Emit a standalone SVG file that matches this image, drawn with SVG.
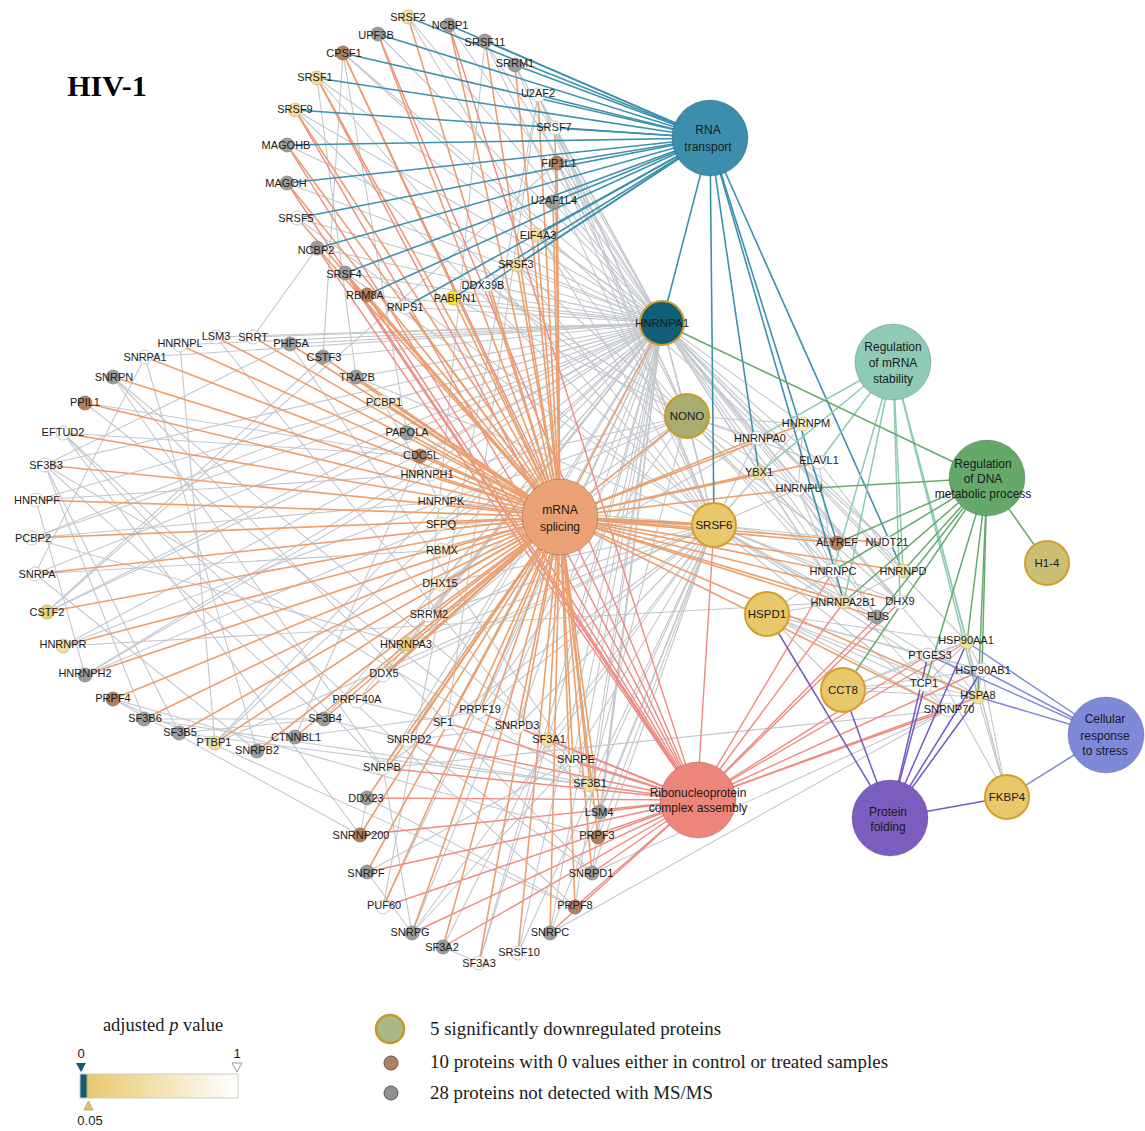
<svg xmlns="http://www.w3.org/2000/svg" width="1145" height="1131" viewBox="0 0 1145 1131">
<defs>
<linearGradient id="pgrad" x1="0" x2="1" y1="0" y2="0">
<stop offset="0" stop-color="#0e5b74"/><stop offset="0.035" stop-color="#0e5b74"/><stop offset="0.05" stop-color="#e8c96e"/><stop offset="1" stop-color="#ffffff"/>
</linearGradient>
<style>
line{stroke-linecap:round;fill:none}
.eg line{stroke:#c3c7cc;stroke-width:1.1}
.er line{stroke:#ee8a80;stroke-width:1.4}
.eo line{stroke:#eb9f6c;stroke-width:1.6}
.et line{stroke:#3d91ad;stroke-width:1.6}
.es line{stroke:#8ecab6;stroke-width:1.5}
.ed line{stroke:#66ab6c;stroke-width:1.5}
.ep line{stroke:#7458c4;stroke-width:1.5}
.ec line{stroke:#7f88da;stroke-width:1.5}
text{font-family:"Liberation Sans",Arial,sans-serif;fill:#1a1a1a;text-anchor:middle}
.nd text{font-size:11px}
.nd circle{stroke-width:0.8}
.wh{fill:#ffffff;stroke:#bdbdbd}
.gr{fill:#9b9b9b;stroke:#8a8a8a}
.br{fill:#b27f5c;stroke:#9a6c4c}
.pl{fill:#f7eed0;stroke:#cfc7a8}
.lt{fill:#f0de9e;stroke:#cdbb80}
.md{fill:#eacf74;stroke:#c9ad58}
.ye{fill:#f3e63a;stroke:#c9bd30}
.hub circle{stroke:#000;stroke-opacity:0.2;stroke-width:1}
.hub text{font-size:12px}
.gn circle{stroke-width:2}
.gn text{font-size:11.5px}
.lg{font-family:"Liberation Serif","Times New Roman",serif;font-size:18.5px;text-anchor:start}
</style>
</defs>
<rect width="1145" height="1131" fill="#ffffff"/>
<text x="107" y="96" style="font-family:'Liberation Serif','Times New Roman',serif;font-size:30px;font-weight:bold;fill:#000">HIV-1</text>

<g id="connectors">
<g class="eg">
<line x1="662" y1="323" x2="408" y2="17"/><line x1="662" y1="323" x2="378" y2="34"/><line x1="662" y1="323" x2="343" y2="53"/><line x1="662" y1="323" x2="317" y2="78"/><line x1="662" y1="323" x2="295" y2="110"/><line x1="662" y1="323" x2="287" y2="145"/><line x1="662" y1="323" x2="287" y2="183"/><line x1="662" y1="323" x2="297" y2="218"/><line x1="662" y1="323" x2="317" y2="248"/><line x1="662" y1="323" x2="345" y2="273"/><line x1="662" y1="323" x2="367" y2="295"/><line x1="662" y1="323" x2="405" y2="307"/><line x1="662" y1="323" x2="453" y2="298"/><line x1="662" y1="323" x2="487" y2="285"/><line x1="662" y1="323" x2="517" y2="265"/><line x1="662" y1="323" x2="537" y2="235"/><line x1="662" y1="323" x2="553" y2="202"/><line x1="662" y1="323" x2="557" y2="163"/><line x1="662" y1="323" x2="555" y2="128"/><line x1="662" y1="323" x2="538" y2="95"/><line x1="662" y1="323" x2="515" y2="65"/><line x1="662" y1="323" x2="485" y2="41"/><line x1="662" y1="323" x2="449" y2="25"/>
<line x1="662" y1="323" x2="180" y2="345"/><line x1="662" y1="323" x2="216" y2="337"/><line x1="662" y1="323" x2="253" y2="337"/><line x1="662" y1="323" x2="290" y2="344"/><line x1="662" y1="323" x2="145" y2="357"/><line x1="662" y1="323" x2="323" y2="357"/><line x1="662" y1="323" x2="356" y2="377"/><line x1="662" y1="323" x2="383" y2="402"/><line x1="662" y1="323" x2="407" y2="433"/><line x1="662" y1="323" x2="420" y2="456"/><line x1="662" y1="323" x2="430" y2="474"/><line x1="662" y1="323" x2="440" y2="502"/><line x1="662" y1="323" x2="440" y2="524"/><line x1="662" y1="323" x2="442" y2="550"/><line x1="662" y1="323" x2="440" y2="584"/><line x1="662" y1="323" x2="428" y2="615"/><line x1="662" y1="323" x2="406" y2="644"/><line x1="662" y1="323" x2="383" y2="675"/><line x1="662" y1="323" x2="357" y2="701"/><line x1="662" y1="323" x2="324" y2="719"/><line x1="662" y1="323" x2="36" y2="500"/><line x1="662" y1="323" x2="32" y2="538"/><line x1="662" y1="323" x2="45" y2="465"/><line x1="662" y1="323" x2="63" y2="646"/><line x1="662" y1="323" x2="85" y2="675"/><line x1="662" y1="323" x2="47" y2="612"/><line x1="662" y1="323" x2="215" y2="743"/><line x1="662" y1="323" x2="35" y2="574"/>
<line x1="662" y1="323" x2="447" y2="723"/><line x1="662" y1="323" x2="479" y2="712"/><line x1="662" y1="323" x2="517" y2="727"/><line x1="662" y1="323" x2="548" y2="740"/><line x1="662" y1="323" x2="573" y2="760"/><line x1="662" y1="323" x2="590" y2="785"/><line x1="662" y1="323" x2="600" y2="812"/><line x1="662" y1="323" x2="598" y2="837"/><line x1="662" y1="323" x2="592" y2="873"/><line x1="662" y1="323" x2="575" y2="907"/><line x1="662" y1="323" x2="550" y2="933"/><line x1="662" y1="323" x2="518" y2="953"/><line x1="662" y1="323" x2="479" y2="963"/><line x1="662" y1="323" x2="412" y2="933"/><line x1="662" y1="323" x2="383" y2="907"/><line x1="662" y1="323" x2="383" y2="768"/><line x1="662" y1="323" x2="408" y2="740"/>
<line x1="662" y1="323" x2="687" y2="416"/><line x1="662" y1="323" x2="757" y2="438"/><line x1="662" y1="323" x2="759" y2="473"/><line x1="662" y1="323" x2="803" y2="424"/><line x1="662" y1="323" x2="819" y2="462"/><line x1="662" y1="323" x2="798" y2="489"/><line x1="662" y1="323" x2="837" y2="543"/><line x1="662" y1="323" x2="833" y2="571"/><line x1="662" y1="323" x2="903" y2="571"/><line x1="662" y1="323" x2="844" y2="602"/><line x1="662" y1="323" x2="900" y2="602"/><line x1="662" y1="323" x2="877" y2="617"/><line x1="662" y1="323" x2="978" y2="697"/><line x1="662" y1="323" x2="967" y2="642"/><line x1="662" y1="323" x2="714" y2="525"/><line x1="662" y1="323" x2="887" y2="543"/>
<line x1="714" y1="525" x2="317" y2="78"/><line x1="714" y1="525" x2="408" y2="17"/><line x1="714" y1="525" x2="517" y2="265"/><line x1="714" y1="525" x2="297" y2="218"/><line x1="714" y1="525" x2="555" y2="128"/><line x1="714" y1="525" x2="295" y2="110"/><line x1="714" y1="525" x2="485" y2="41"/><line x1="714" y1="525" x2="345" y2="273"/><line x1="714" y1="525" x2="538" y2="95"/><line x1="714" y1="525" x2="515" y2="65"/><line x1="714" y1="525" x2="428" y2="615"/><line x1="714" y1="525" x2="356" y2="377"/><line x1="714" y1="525" x2="440" y2="502"/><line x1="714" y1="525" x2="440" y2="524"/><line x1="714" y1="525" x2="215" y2="743"/><line x1="714" y1="525" x2="406" y2="644"/><line x1="714" y1="525" x2="440" y2="584"/><line x1="714" y1="525" x2="383" y2="675"/><line x1="714" y1="525" x2="479" y2="712"/><line x1="714" y1="525" x2="590" y2="785"/><line x1="714" y1="525" x2="573" y2="760"/><line x1="714" y1="525" x2="600" y2="812"/><line x1="714" y1="525" x2="598" y2="837"/><line x1="714" y1="525" x2="592" y2="873"/><line x1="714" y1="525" x2="548" y2="740"/><line x1="714" y1="525" x2="517" y2="727"/><line x1="714" y1="525" x2="948" y2="710"/><line x1="714" y1="525" x2="978" y2="697"/><line x1="714" y1="525" x2="928" y2="655"/><line x1="714" y1="525" x2="844" y2="602"/><line x1="714" y1="525" x2="833" y2="571"/><line x1="714" y1="525" x2="837" y2="543"/><line x1="714" y1="525" x2="887" y2="543"/><line x1="714" y1="525" x2="798" y2="489"/><line x1="714" y1="525" x2="759" y2="473"/><line x1="714" y1="525" x2="757" y2="438"/><line x1="714" y1="525" x2="803" y2="424"/><line x1="714" y1="525" x2="687" y2="416"/><line x1="714" y1="525" x2="877" y2="617"/><line x1="714" y1="525" x2="900" y2="602"/><line x1="714" y1="525" x2="383" y2="768"/><line x1="714" y1="525" x2="412" y2="933"/><line x1="714" y1="525" x2="550" y2="933"/><line x1="714" y1="525" x2="518" y2="953"/>
<line x1="687" y1="416" x2="440" y2="524"/><line x1="687" y1="416" x2="440" y2="502"/><line x1="687" y1="416" x2="430" y2="474"/><line x1="687" y1="416" x2="798" y2="489"/><line x1="687" y1="416" x2="803" y2="424"/><line x1="687" y1="416" x2="757" y2="438"/><line x1="687" y1="416" x2="479" y2="712"/><line x1="687" y1="416" x2="590" y2="785"/><line x1="687" y1="416" x2="948" y2="710"/><line x1="687" y1="416" x2="900" y2="602"/><line x1="687" y1="416" x2="833" y2="571"/><line x1="687" y1="416" x2="819" y2="462"/><line x1="687" y1="416" x2="517" y2="265"/><line x1="687" y1="416" x2="537" y2="235"/><line x1="687" y1="416" x2="538" y2="95"/><line x1="687" y1="416" x2="383" y2="675"/><line x1="687" y1="416" x2="440" y2="584"/><line x1="687" y1="416" x2="453" y2="298"/><line x1="687" y1="416" x2="487" y2="285"/><line x1="687" y1="416" x2="555" y2="128"/><line x1="687" y1="416" x2="557" y2="163"/>
<line x1="767" y1="614" x2="967" y2="642"/><line x1="767" y1="614" x2="928" y2="655"/><line x1="767" y1="614" x2="978" y2="697"/><line x1="767" y1="614" x2="948" y2="710"/><line x1="767" y1="614" x2="925" y2="685"/><line x1="767" y1="614" x2="843" y2="690"/><line x1="767" y1="614" x2="982" y2="670"/><line x1="767" y1="614" x2="833" y2="571"/><line x1="767" y1="614" x2="844" y2="602"/>
<line x1="843" y1="690" x2="925" y2="685"/><line x1="843" y1="690" x2="967" y2="642"/><line x1="843" y1="690" x2="978" y2="697"/><line x1="843" y1="690" x2="982" y2="670"/><line x1="843" y1="690" x2="928" y2="655"/>
<line x1="1007" y1="797" x2="967" y2="642"/><line x1="1007" y1="797" x2="982" y2="670"/><line x1="1007" y1="797" x2="978" y2="697"/><line x1="1007" y1="797" x2="928" y2="655"/><line x1="1007" y1="797" x2="893" y2="362"/>
<line x1="978" y1="697" x2="967" y2="642"/><line x1="978" y1="697" x2="982" y2="670"/><line x1="967" y1="642" x2="982" y2="670"/><line x1="928" y1="655" x2="967" y2="642"/><line x1="928" y1="655" x2="982" y2="670"/><line x1="978" y1="697" x2="948" y2="710"/><line x1="925" y1="685" x2="967" y2="642"/><line x1="978" y1="697" x2="925" y2="685"/>
<line x1="844" y1="602" x2="833" y2="571"/><line x1="833" y1="571" x2="798" y2="489"/><line x1="903" y1="571" x2="844" y2="602"/><line x1="900" y1="602" x2="798" y2="489"/><line x1="819" y1="462" x2="903" y2="571"/><line x1="819" y1="462" x2="833" y2="571"/><line x1="837" y1="543" x2="487" y2="285"/><line x1="887" y1="543" x2="343" y2="53"/><line x1="877" y1="617" x2="798" y2="489"/><line x1="759" y1="473" x2="844" y2="602"/><line x1="803" y1="424" x2="798" y2="489"/><line x1="757" y1="438" x2="406" y2="644"/><line x1="948" y1="710" x2="550" y2="933"/><line x1="948" y1="710" x2="383" y2="768"/><line x1="948" y1="710" x2="592" y2="873"/>
<line x1="45" y1="465" x2="324" y2="719"/><line x1="45" y1="465" x2="179" y2="733"/><line x1="45" y1="465" x2="144" y2="719"/><line x1="45" y1="465" x2="290" y2="344"/><line x1="45" y1="465" x2="590" y2="785"/><line x1="144" y1="719" x2="590" y2="785"/><line x1="179" y1="733" x2="590" y2="785"/><line x1="324" y1="719" x2="590" y2="785"/><line x1="290" y1="344" x2="590" y2="785"/><line x1="35" y1="574" x2="257" y2="751"/><line x1="35" y1="574" x2="145" y2="357"/><line x1="145" y1="357" x2="257" y2="751"/><line x1="36" y1="500" x2="430" y2="474"/><line x1="36" y1="500" x2="85" y2="675"/><line x1="430" y1="474" x2="85" y2="675"/><line x1="32" y1="538" x2="383" y2="402"/><line x1="32" y1="538" x2="440" y2="502"/><line x1="383" y1="402" x2="440" y2="502"/><line x1="63" y1="433" x2="360" y2="835"/><line x1="63" y1="433" x2="575" y2="907"/><line x1="63" y1="433" x2="383" y2="768"/><line x1="63" y1="433" x2="420" y2="456"/><line x1="85" y1="403" x2="420" y2="456"/><line x1="85" y1="403" x2="479" y2="712"/><line x1="295" y1="737" x2="420" y2="456"/><line x1="295" y1="737" x2="479" y2="712"/><line x1="113" y1="699" x2="598" y2="837"/><line x1="113" y1="699" x2="575" y2="907"/><line x1="113" y1="699" x2="360" y2="835"/><line x1="47" y1="612" x2="323" y2="357"/><line x1="47" y1="612" x2="557" y2="163"/><line x1="47" y1="612" x2="407" y2="433"/><line x1="323" y1="357" x2="343" y2="53"/><line x1="407" y1="433" x2="343" y2="53"/><line x1="63" y1="646" x2="440" y2="502"/><line x1="113" y1="377" x2="383" y2="768"/><line x1="113" y1="377" x2="592" y2="873"/><line x1="113" y1="377" x2="573" y2="760"/><line x1="216" y1="337" x2="600" y2="812"/><line x1="253" y1="337" x2="317" y2="248"/><line x1="180" y1="345" x2="215" y2="743"/><line x1="215" y1="743" x2="440" y2="502"/><line x1="356" y1="377" x2="317" y2="78"/><line x1="548" y1="740" x2="443" y2="947"/><line x1="548" y1="740" x2="479" y2="963"/><line x1="443" y1="947" x2="479" y2="963"/><line x1="447" y1="723" x2="538" y2="95"/><line x1="383" y1="907" x2="538" y2="95"/><line x1="412" y1="933" x2="383" y2="768"/><line x1="412" y1="933" x2="573" y2="760"/><line x1="367" y1="872" x2="573" y2="760"/><line x1="367" y1="872" x2="412" y2="933"/><line x1="408" y1="740" x2="517" y2="727"/><line x1="592" y1="873" x2="408" y2="740"/><line x1="367" y1="798" x2="360" y2="835"/><line x1="367" y1="798" x2="575" y2="907"/><line x1="144" y1="719" x2="324" y2="719"/><line x1="179" y1="733" x2="324" y2="719"/><line x1="357" y1="701" x2="447" y2="723"/><line x1="428" y1="615" x2="485" y2="41"/><line x1="63" y1="646" x2="844" y2="602"/><line x1="85" y1="675" x2="440" y2="524"/><line x1="32" y1="538" x2="406" y2="644"/><line x1="35" y1="574" x2="442" y2="550"/>
</g>
<g class="er">
<line x1="697" y1="800" x2="447" y2="723"/><line x1="697" y1="800" x2="408" y2="740"/><line x1="697" y1="800" x2="383" y2="768"/><line x1="697" y1="800" x2="367" y2="798"/><line x1="697" y1="800" x2="360" y2="835"/><line x1="697" y1="800" x2="367" y2="872"/><line x1="697" y1="800" x2="383" y2="907"/><line x1="697" y1="800" x2="412" y2="933"/><line x1="697" y1="800" x2="443" y2="947"/><line x1="697" y1="800" x2="550" y2="933"/><line x1="697" y1="800" x2="575" y2="907"/><line x1="697" y1="800" x2="592" y2="873"/><line x1="697" y1="800" x2="598" y2="837"/><line x1="697" y1="800" x2="600" y2="812"/><line x1="697" y1="800" x2="590" y2="785"/><line x1="697" y1="800" x2="573" y2="760"/><line x1="697" y1="800" x2="548" y2="740"/><line x1="697" y1="800" x2="517" y2="727"/><line x1="697" y1="800" x2="479" y2="712"/>
<line x1="697" y1="800" x2="714" y2="525"/><line x1="697" y1="800" x2="833" y2="571"/><line x1="697" y1="800" x2="844" y2="602"/><line x1="697" y1="800" x2="877" y2="617"/><line x1="697" y1="800" x2="900" y2="602"/><line x1="697" y1="800" x2="928" y2="655"/><line x1="697" y1="800" x2="967" y2="642"/><line x1="697" y1="800" x2="982" y2="670"/><line x1="697" y1="800" x2="978" y2="697"/><line x1="697" y1="800" x2="948" y2="710"/>
<line x1="697" y1="800" x2="449" y2="25"/><line x1="697" y1="800" x2="378" y2="34"/><line x1="697" y1="800" x2="343" y2="53"/><line x1="697" y1="800" x2="317" y2="78"/><line x1="697" y1="800" x2="295" y2="110"/><line x1="697" y1="800" x2="287" y2="145"/><line x1="697" y1="800" x2="287" y2="183"/><line x1="697" y1="800" x2="317" y2="248"/><line x1="697" y1="800" x2="367" y2="295"/><line x1="697" y1="800" x2="345" y2="273"/>
</g>
<g class="eo">
<line x1="560" y1="517" x2="408" y2="17"/><line x1="560" y1="517" x2="449" y2="25"/><line x1="560" y1="517" x2="378" y2="34"/><line x1="560" y1="517" x2="485" y2="41"/><line x1="560" y1="517" x2="343" y2="53"/><line x1="560" y1="517" x2="515" y2="65"/><line x1="560" y1="517" x2="317" y2="78"/><line x1="560" y1="517" x2="538" y2="95"/><line x1="560" y1="517" x2="295" y2="110"/><line x1="560" y1="517" x2="555" y2="128"/><line x1="560" y1="517" x2="287" y2="145"/><line x1="560" y1="517" x2="557" y2="163"/><line x1="560" y1="517" x2="287" y2="183"/><line x1="560" y1="517" x2="553" y2="202"/><line x1="560" y1="517" x2="297" y2="218"/><line x1="560" y1="517" x2="537" y2="235"/><line x1="560" y1="517" x2="317" y2="248"/><line x1="560" y1="517" x2="517" y2="265"/><line x1="560" y1="517" x2="345" y2="273"/><line x1="560" y1="517" x2="487" y2="285"/><line x1="560" y1="517" x2="367" y2="295"/><line x1="560" y1="517" x2="453" y2="298"/><line x1="560" y1="517" x2="405" y2="307"/>
<line x1="560" y1="517" x2="180" y2="345"/><line x1="560" y1="517" x2="216" y2="337"/><line x1="560" y1="517" x2="253" y2="337"/><line x1="560" y1="517" x2="290" y2="344"/><line x1="560" y1="517" x2="145" y2="357"/><line x1="560" y1="517" x2="323" y2="357"/><line x1="560" y1="517" x2="113" y2="377"/><line x1="560" y1="517" x2="356" y2="377"/><line x1="560" y1="517" x2="85" y2="403"/><line x1="560" y1="517" x2="383" y2="402"/><line x1="560" y1="517" x2="63" y2="433"/><line x1="560" y1="517" x2="407" y2="433"/><line x1="560" y1="517" x2="420" y2="456"/><line x1="560" y1="517" x2="45" y2="465"/><line x1="560" y1="517" x2="430" y2="474"/><line x1="560" y1="517" x2="36" y2="500"/><line x1="560" y1="517" x2="440" y2="502"/><line x1="560" y1="517" x2="32" y2="538"/><line x1="560" y1="517" x2="440" y2="524"/><line x1="560" y1="517" x2="442" y2="550"/><line x1="560" y1="517" x2="35" y2="574"/><line x1="560" y1="517" x2="440" y2="584"/><line x1="560" y1="517" x2="47" y2="612"/><line x1="560" y1="517" x2="428" y2="615"/><line x1="560" y1="517" x2="63" y2="646"/><line x1="560" y1="517" x2="406" y2="644"/><line x1="560" y1="517" x2="85" y2="675"/><line x1="560" y1="517" x2="383" y2="675"/><line x1="560" y1="517" x2="113" y2="699"/><line x1="560" y1="517" x2="357" y2="701"/><line x1="560" y1="517" x2="144" y2="719"/><line x1="560" y1="517" x2="324" y2="719"/><line x1="560" y1="517" x2="179" y2="733"/><line x1="560" y1="517" x2="295" y2="737"/><line x1="560" y1="517" x2="215" y2="743"/><line x1="560" y1="517" x2="257" y2="751"/>
<line x1="560" y1="517" x2="479" y2="712"/><line x1="560" y1="517" x2="447" y2="723"/><line x1="560" y1="517" x2="517" y2="727"/><line x1="560" y1="517" x2="408" y2="740"/><line x1="560" y1="517" x2="548" y2="740"/><line x1="560" y1="517" x2="573" y2="760"/><line x1="560" y1="517" x2="383" y2="768"/><line x1="560" y1="517" x2="590" y2="785"/><line x1="560" y1="517" x2="367" y2="798"/><line x1="560" y1="517" x2="600" y2="812"/><line x1="560" y1="517" x2="360" y2="835"/><line x1="560" y1="517" x2="598" y2="837"/><line x1="560" y1="517" x2="367" y2="872"/><line x1="560" y1="517" x2="592" y2="873"/><line x1="560" y1="517" x2="383" y2="907"/><line x1="560" y1="517" x2="575" y2="907"/><line x1="560" y1="517" x2="412" y2="933"/><line x1="560" y1="517" x2="550" y2="933"/><line x1="560" y1="517" x2="443" y2="947"/><line x1="560" y1="517" x2="518" y2="953"/><line x1="560" y1="517" x2="479" y2="963"/>
<line x1="560" y1="517" x2="662" y2="323"/><line x1="560" y1="517" x2="687" y2="416"/><line x1="560" y1="517" x2="714" y2="525" style="stroke-width:3"/><line x1="560" y1="517" x2="757" y2="438"/><line x1="560" y1="517" x2="759" y2="473"/><line x1="560" y1="517" x2="803" y2="424"/><line x1="560" y1="517" x2="798" y2="489"/><line x1="560" y1="517" x2="819" y2="462"/><line x1="560" y1="517" x2="837" y2="543"/><line x1="560" y1="517" x2="887" y2="543"/><line x1="560" y1="517" x2="833" y2="571"/><line x1="560" y1="517" x2="903" y2="571"/><line x1="560" y1="517" x2="844" y2="602"/><line x1="560" y1="517" x2="900" y2="602"/><line x1="560" y1="517" x2="877" y2="617"/><line x1="560" y1="517" x2="948" y2="710"/><line x1="560" y1="517" x2="978" y2="697"/>
</g>
<g class="et">
<line x1="710" y1="138" x2="408" y2="17"/><line x1="710" y1="138" x2="449" y2="25"/><line x1="710" y1="138" x2="378" y2="34"/><line x1="710" y1="138" x2="485" y2="41"/><line x1="710" y1="138" x2="343" y2="53"/><line x1="710" y1="138" x2="515" y2="65"/><line x1="710" y1="138" x2="317" y2="78"/><line x1="710" y1="138" x2="538" y2="95"/><line x1="710" y1="138" x2="295" y2="110"/><line x1="710" y1="138" x2="555" y2="128"/><line x1="710" y1="138" x2="287" y2="145"/><line x1="710" y1="138" x2="557" y2="163"/><line x1="710" y1="138" x2="287" y2="183"/><line x1="710" y1="138" x2="553" y2="202"/><line x1="710" y1="138" x2="297" y2="218"/><line x1="710" y1="138" x2="537" y2="235"/><line x1="710" y1="138" x2="317" y2="248"/><line x1="710" y1="138" x2="517" y2="265"/><line x1="710" y1="138" x2="345" y2="273"/><line x1="710" y1="138" x2="487" y2="285"/><line x1="710" y1="138" x2="367" y2="295"/><line x1="710" y1="138" x2="453" y2="298"/><line x1="710" y1="138" x2="405" y2="307"/>
<line x1="710" y1="138" x2="662" y2="323"/><line x1="710" y1="138" x2="714" y2="525"/><line x1="710" y1="138" x2="759" y2="473"/><line x1="710" y1="138" x2="837" y2="543"/><line x1="710" y1="138" x2="844" y2="602"/><line x1="710" y1="138" x2="903" y2="571"/>
</g>
<g class="es">
<line x1="893" y1="362" x2="757" y2="438"/><line x1="893" y1="362" x2="759" y2="473"/><line x1="893" y1="362" x2="819" y2="462"/><line x1="893" y1="362" x2="833" y2="571"/><line x1="893" y1="362" x2="844" y2="602"/><line x1="893" y1="362" x2="903" y2="571"/><line x1="893" y1="362" x2="900" y2="602"/><line x1="893" y1="362" x2="967" y2="642"/><line x1="893" y1="362" x2="978" y2="697"/>
</g>
<g class="ed">
<line x1="987" y1="478" x2="662" y2="323"/><line x1="987" y1="478" x2="798" y2="489"/><line x1="987" y1="478" x2="837" y2="543"/><line x1="987" y1="478" x2="833" y2="571"/><line x1="987" y1="478" x2="844" y2="602"/><line x1="987" y1="478" x2="903" y2="571"/><line x1="987" y1="478" x2="877" y2="617"/><line x1="987" y1="478" x2="843" y2="690"/><line x1="987" y1="478" x2="925" y2="685"/><line x1="987" y1="478" x2="967" y2="642"/><line x1="987" y1="478" x2="982" y2="670"/><line x1="987" y1="478" x2="978" y2="697"/><line x1="987" y1="478" x2="1047" y2="563"/>
</g>
<g class="ep">
<line x1="890" y1="818" x2="767" y2="614"/><line x1="890" y1="818" x2="843" y2="690"/><line x1="890" y1="818" x2="925" y2="685"/><line x1="890" y1="818" x2="928" y2="655"/><line x1="890" y1="818" x2="967" y2="642"/><line x1="890" y1="818" x2="982" y2="670"/><line x1="890" y1="818" x2="978" y2="697"/><line x1="890" y1="818" x2="1007" y2="797"/>
</g>
<g class="ec">
<line x1="1106" y1="735" x2="967" y2="642"/><line x1="1106" y1="735" x2="928" y2="655"/><line x1="1106" y1="735" x2="982" y2="670"/><line x1="1106" y1="735" x2="978" y2="697"/><line x1="1106" y1="735" x2="1007" y2="797"/>
</g>
</g>

<g id="nodes">
<g id="hub-rna-transport" class="hub"><circle cx="710" cy="138" r="38" fill="#3b8fac"/><text x="708" y="134">RNA</text><text x="708" y="151">transport</text></g>
<g id="hub-mrna-splicing" class="hub"><circle cx="560" cy="517" r="38" fill="#eaa274"/><text x="560" y="514">mRNA</text><text x="560" y="531">splicing</text></g>
<g id="hub-rnp-assembly" class="hub"><circle cx="698" cy="800" r="38" fill="#ee857a"/><text x="698" y="797">Ribonucleoprotein</text><text x="698" y="812">complex assembly</text></g>
<g id="hub-protein-folding" class="hub"><circle cx="890" cy="818" r="38" fill="#7b5dc0"/><text x="888" y="816">Protein</text><text x="888" y="831">folding</text></g>
<g id="hub-cellular-stress" class="hub"><circle cx="1106" cy="735" r="38" fill="#7e89d9"/><text x="1105" y="723">Cellular</text><text x="1105" y="740">response</text><text x="1105" y="755">to stress</text></g>
<g id="hub-mrna-stability" class="hub"><circle cx="893" cy="362" r="38" fill="#8fcab7"/><text x="893" y="351">Regulation</text><text x="893" y="367">of mRNA</text><text x="893" y="383">stability</text></g>
<g id="hub-dna-metabolic" class="hub"><circle cx="987" cy="478" r="38" fill="#64a96a"/><text x="983" y="468">Regulation</text><text x="983" y="483">of DNA</text><text x="983" y="498">metabolic process</text></g>

<g id="HNRNPA1" class="gn"><circle cx="662" cy="323" r="22" fill="#0f5f78" stroke="#d39a2a"/><text x="662" y="327">HNRNPA1</text></g>
<g id="NONO" class="gn"><circle cx="687" cy="416" r="22" fill="#a9ad72" stroke="#c99a2a"/><text x="687" y="420">NONO</text></g>
<g id="SRSF6" class="gn"><circle cx="714" cy="525" r="22" fill="#e9c86c" stroke="#d69d2c"/><text x="714" y="529">SRSF6</text></g>
<g id="HSPD1" class="gn"><circle cx="767" cy="614" r="22" fill="#e9c86c" stroke="#d69d2c"/><text x="767" y="618">HSPD1</text></g>
<g id="CCT8" class="gn"><circle cx="843" cy="690" r="22" fill="#e9c86c" stroke="#d69d2c"/><text x="843" y="694">CCT8</text></g>
<g id="FKBP4" class="gn"><circle cx="1007" cy="797" r="22" fill="#e9c86c" stroke="#d69d2c"/><text x="1007" y="801">FKBP4</text></g>
<g id="H1-4" class="gn"><circle cx="1047" cy="563" r="22" fill="#cbbf76" stroke="#d69d2c"/><text x="1047" y="567">H1-4</text></g>

<g id="SRSF2" class="nd"><circle class="lt" cx="408" cy="17" r="7"/><text x="408" y="21">SRSF2</text></g>
<g id="NCBP1" class="nd"><circle class="gr" cx="449" cy="25" r="7"/><text x="450" y="29">NCBP1</text></g>
<g id="UPF3B" class="nd"><circle class="gr" cx="378" cy="34" r="7"/><text x="376" y="39">UPF3B</text></g>
<g id="SRSF11" class="nd"><circle class="gr" cx="485" cy="41" r="7"/><text x="485" y="46">SRSF11</text></g>
<g id="CPSF1" class="nd"><circle class="br" cx="343" cy="53" r="7"/><text x="344" y="57">CPSF1</text></g>
<g id="SRRM1" class="nd"><circle class="gr" cx="515" cy="65" r="7"/><text x="515" y="67">SRRM1</text></g>
<g id="SRSF1" class="nd"><circle class="lt" cx="317" cy="78" r="7"/><text x="315" y="81">SRSF1</text></g>
<g id="U2AF2" class="nd"><circle class="wh" cx="538" cy="95" r="7"/><text x="538" y="97">U2AF2</text></g>
<g id="SRSF9" class="nd"><circle class="lt" cx="295" cy="110" r="7"/><text x="295" y="113">SRSF9</text></g>
<g id="SRSF7" class="nd"><circle class="wh" cx="555" cy="128" r="7"/><text x="554" y="131">SRSF7</text></g>
<g id="MAGOHB" class="nd"><circle class="gr" cx="287" cy="145" r="7"/><text x="286" y="149">MAGOHB</text></g>
<g id="FIP1L1" class="nd"><circle class="br" cx="557" cy="163" r="7"/><text x="559" y="167">FIP1L1</text></g>
<g id="MAGOH" class="nd"><circle class="gr" cx="287" cy="183" r="7"/><text x="286" y="187">MAGOH</text></g>
<g id="U2AF1L4" class="nd"><circle class="gr" cx="553" cy="202" r="7"/><text x="554" y="204">U2AF1L4</text></g>
<g id="SRSF5" class="nd"><circle class="wh" cx="297" cy="218" r="7"/><text x="296" y="222">SRSF5</text></g>
<g id="EIF4A3" class="nd"><circle class="lt" cx="537" cy="235" r="7"/><text x="538" y="239">EIF4A3</text></g>
<g id="NCBP2" class="nd"><circle class="gr" cx="317" cy="248" r="7"/><text x="316" y="254">NCBP2</text></g>
<g id="SRSF3" class="nd"><circle class="lt" cx="517" cy="265" r="7"/><text x="516" y="268">SRSF3</text></g>
<g id="SRSF4" class="nd"><circle class="gr" cx="345" cy="273" r="7"/><text x="344" y="278">SRSF4</text></g>
<g id="DDX39B" class="nd"><circle class="wh" cx="487" cy="285" r="7"/><text x="483" y="289">DDX39B</text></g>
<g id="RBM8A" class="nd"><circle class="br" cx="367" cy="295" r="7"/><text x="365" y="299">RBM8A</text></g>
<g id="PABPN1" class="nd"><circle class="ye" cx="453" cy="298" r="7"/><text x="455" y="302">PABPN1</text></g>
<g id="RNPS1" class="nd"><circle class="wh" cx="405" cy="307" r="7"/><text x="405" y="311">RNPS1</text></g>

<g id="HNRNPL" class="nd"><circle class="wh" cx="180" cy="345" r="7"/><text x="180" y="347">HNRNPL</text></g>
<g id="LSM3" class="nd"><circle class="wh" cx="216" cy="337" r="7"/><text x="216" y="340">LSM3</text></g>
<g id="SRRT" class="nd"><circle class="wh" cx="253" cy="337" r="7"/><text x="253" y="341">SRRT</text></g>
<g id="PHF5A" class="nd"><circle class="gr" cx="290" cy="344" r="7"/><text x="291" y="347">PHF5A</text></g>
<g id="SNRPA1" class="nd"><circle class="wh" cx="145" cy="357" r="7"/><text x="145" y="361">SNRPA1</text></g>
<g id="CSTF3" class="nd"><circle class="gr" cx="323" cy="357" r="7"/><text x="324" y="361">CSTF3</text></g>
<g id="SNRPN" class="nd"><circle class="gr" cx="113" cy="377" r="7"/><text x="114" y="381">SNRPN</text></g>
<g id="TRA2B" class="nd"><circle class="gr" cx="356" cy="377" r="7"/><text x="357" y="381">TRA2B</text></g>
<g id="PPIL1" class="nd"><circle class="br" cx="85" cy="403" r="7"/><text x="85" y="406">PPIL1</text></g>
<g id="PCBP1" class="nd"><circle class="pl" cx="383" cy="402" r="7"/><text x="384" y="406">PCBP1</text></g>
<g id="EFTUD2" class="nd"><circle class="wh" cx="63" cy="433" r="7"/><text x="63" y="436">EFTUD2</text></g>
<g id="PAPOLA" class="nd"><circle class="gr" cx="407" cy="433" r="7"/><text x="407" y="436">PAPOLA</text></g>
<g id="CDC5L" class="nd"><circle class="br" cx="420" cy="456" r="7"/><text x="421" y="459">CDC5L</text></g>
<g id="SF3B3" class="nd"><circle class="wh" cx="45" cy="465" r="7"/><text x="46" y="469">SF3B3</text></g>
<g id="HNRNPH1" class="nd"><circle class="wh" cx="430" cy="474" r="7"/><text x="427" y="478">HNRNPH1</text></g>
<g id="HNRNPF" class="nd"><circle class="wh" cx="36" cy="500" r="7"/><text x="37" y="504">HNRNPF</text></g>
<g id="HNRNPK" class="nd"><circle class="wh" cx="440" cy="502" r="7"/><text x="441" y="505">HNRNPK</text></g>
<g id="PCBP2" class="nd"><circle class="wh" cx="32" cy="538" r="7"/><text x="33" y="542">PCBP2</text></g>
<g id="SFPQ" class="nd"><circle class="pl" cx="440" cy="524" r="7"/><text x="441" y="528">SFPQ</text></g>
<g id="RBMX" class="nd"><circle class="pl" cx="442" cy="550" r="7"/><text x="442" y="554">RBMX</text></g>
<g id="SNRPA" class="nd"><circle class="wh" cx="35" cy="574" r="7"/><text x="37" y="578">SNRPA</text></g>
<g id="DHX15" class="nd"><circle class="pl" cx="440" cy="584" r="7"/><text x="440" y="587">DHX15</text></g>
<g id="CSTF2" class="nd"><circle class="md" cx="47" cy="612" r="7"/><text x="47" y="616">CSTF2</text></g>
<g id="SRRM2" class="nd"><circle class="wh" cx="428" cy="615" r="7"/><text x="429" y="618">SRRM2</text></g>
<g id="HNRNPR" class="nd"><circle class="lt" cx="63" cy="646" r="7"/><text x="63" y="648">HNRNPR</text></g>
<g id="HNRNPA3" class="nd"><circle class="md" cx="406" cy="644" r="7"/><text x="406" y="648">HNRNPA3</text></g>
<g id="HNRNPH2" class="nd"><circle class="gr" cx="85" cy="675" r="7"/><text x="85" y="677">HNRNPH2</text></g>
<g id="DDX5" class="nd"><circle class="wh" cx="383" cy="675" r="7"/><text x="384" y="677">DDX5</text></g>
<g id="PRPF4" class="nd"><circle class="br" cx="113" cy="699" r="7"/><text x="113" y="702">PRPF4</text></g>
<g id="PRPF40A" class="nd"><circle class="wh" cx="357" cy="701" r="7"/><text x="357" y="703">PRPF40A</text></g>
<g id="SF3B6" class="nd"><circle class="gr" cx="144" cy="719" r="7"/><text x="145" y="722">SF3B6</text></g>
<g id="SF3B4" class="nd"><circle class="gr" cx="324" cy="719" r="7"/><text x="325" y="722">SF3B4</text></g>
<g id="SF3B5" class="nd"><circle class="gr" cx="179" cy="733" r="7"/><text x="180" y="736">SF3B5</text></g>
<g id="CTNNBL1" class="nd"><circle class="gr" cx="295" cy="737" r="7"/><text x="296" y="741">CTNNBL1</text></g>
<g id="PTBP1" class="nd"><circle class="lt" cx="215" cy="743" r="7"/><text x="214" y="746">PTBP1</text></g>
<g id="SNRPB2" class="nd"><circle class="gr" cx="257" cy="751" r="7"/><text x="257" y="754">SNRPB2</text></g>

<g id="PRPF19" class="nd"><circle class="wh" cx="479" cy="712" r="7"/><text x="480" y="713">PRPF19</text></g>
<g id="SF1" class="nd"><circle class="wh" cx="447" cy="723" r="7"/><text x="443" y="726">SF1</text></g>
<g id="SNRPD3" class="nd"><circle class="wh" cx="517" cy="727" r="7"/><text x="517" y="729">SNRPD3</text></g>
<g id="SNRPD2" class="nd"><circle class="wh" cx="408" cy="740" r="7"/><text x="409" y="743">SNRPD2</text></g>
<g id="SF3A1" class="nd"><circle class="lt" cx="548" cy="740" r="7"/><text x="549" y="743">SF3A1</text></g>
<g id="SNRPE" class="nd"><circle class="wh" cx="573" cy="760" r="7"/><text x="576" y="763">SNRPE</text></g>
<g id="SNRPB" class="nd"><circle class="wh" cx="383" cy="768" r="7"/><text x="382" y="771">SNRPB</text></g>
<g id="SF3B1" class="nd"><circle class="lt" cx="590" cy="785" r="7"/><text x="590" y="787">SF3B1</text></g>
<g id="DDX23" class="nd"><circle class="gr" cx="367" cy="798" r="7"/><text x="366" y="802">DDX23</text></g>
<g id="LSM4" class="nd"><circle class="gr" cx="600" cy="812" r="7"/><text x="599" y="816">LSM4</text></g>
<g id="SNRNP200" class="nd"><circle class="br" cx="360" cy="835" r="7"/><text x="361" y="839">SNRNP200</text></g>
<g id="PRPF3" class="nd"><circle class="br" cx="598" cy="837" r="7"/><text x="597" y="839">PRPF3</text></g>
<g id="SNRPF" class="nd"><circle class="gr" cx="367" cy="872" r="7"/><text x="366" y="877">SNRPF</text></g>
<g id="SNRPD1" class="nd"><circle class="gr" cx="592" cy="873" r="7"/><text x="591" y="877">SNRPD1</text></g>
<g id="PUF60" class="nd"><circle class="wh" cx="383" cy="907" r="7"/><text x="384" y="909">PUF60</text></g>
<g id="PRPF8" class="nd"><circle class="br" cx="575" cy="907" r="7"/><text x="575" y="909">PRPF8</text></g>
<g id="SNRPG" class="nd"><circle class="gr" cx="412" cy="933" r="7"/><text x="410" y="936">SNRPG</text></g>
<g id="SNRPC" class="nd"><circle class="gr" cx="550" cy="933" r="7"/><text x="550" y="936">SNRPC</text></g>
<g id="SF3A2" class="nd"><circle class="gr" cx="443" cy="947" r="7"/><text x="442" y="951">SF3A2</text></g>
<g id="SRSF10" class="nd"><circle class="wh" cx="518" cy="953" r="7"/><text x="519" y="956">SRSF10</text></g>
<g id="SF3A3" class="nd"><circle class="wh" cx="479" cy="963" r="7"/><text x="479" y="967">SF3A3</text></g>

<g id="HNRNPM" class="nd"><circle class="pl" cx="803" cy="424" r="7"/><text x="806" y="427">HNRNPM</text></g>
<g id="HNRNPA0" class="nd"><circle class="wh" cx="757" cy="438" r="7"/><text x="760" y="442">HNRNPA0</text></g>
<g id="ELAVL1" class="nd"><circle class="wh" cx="819" cy="462" r="7"/><text x="819" y="464">ELAVL1</text></g>
<g id="YBX1" class="nd"><circle class="lt" cx="759" cy="473" r="7"/><text x="759" y="476">YBX1</text></g>
<g id="HNRNPU" class="nd"><circle class="wh" cx="798" cy="489" r="7"/><text x="799" y="492">HNRNPU</text></g>
<g id="ALYREF" class="nd"><circle class="br" cx="837" cy="543" r="7"/><text x="837" y="546">ALYREF</text></g>
<g id="NUDT21" class="nd"><circle class="wh" cx="887" cy="543" r="7"/><text x="887" y="546">NUDT21</text></g>
<g id="HNRNPC" class="nd"><circle class="wh" cx="833" cy="571" r="7"/><text x="833" y="575">HNRNPC</text></g>
<g id="HNRNPD" class="nd"><circle class="lt" cx="903" cy="571" r="7"/><text x="903" y="575">HNRNPD</text></g>
<g id="HNRNPA2B1" class="nd"><circle class="lt" cx="844" cy="602" r="7"/><text x="843" y="606">HNRNPA2B1</text></g>
<g id="DHX9" class="nd"><circle class="wh" cx="900" cy="602" r="7"/><text x="900" y="605">DHX9</text></g>
<g id="FUS" class="nd"><circle class="gr" cx="877" cy="617" r="7"/><text x="878" y="620">FUS</text></g>
<g id="HSP90AA1" class="nd"><circle class="lt" cx="967" cy="642" r="7"/><text x="966" y="644">HSP90AA1</text></g>
<g id="PTGES3" class="nd"><circle class="wh" cx="928" cy="655" r="7"/><text x="930" y="659">PTGES3</text></g>
<g id="HSP90AB1" class="nd"><circle class="wh" cx="982" cy="670" r="7"/><text x="983" y="674">HSP90AB1</text></g>
<g id="TCP1" class="nd"><circle class="wh" cx="925" cy="685" r="7"/><text x="924" y="687">TCP1</text></g>
<g id="HSPA8" class="nd"><circle class="lt" cx="978" cy="697" r="7"/><text x="978" y="699">HSPA8</text></g>
<g id="SNRNP70" class="nd"><circle class="wh" cx="948" cy="710" r="7"/><text x="949" y="713">SNRNP70</text></g>
</g>

<g id="legend">
<text x="163" y="1031" style="font-family:'Liberation Serif','Times New Roman',serif;font-size:18.5px">adjusted <tspan font-style="italic">p</tspan> value</text>
<text x="81" y="1058" style="font-size:13px">0</text>
<text x="237" y="1058" style="font-size:13px">1</text>
<polygon points="76,1063 86,1063 81,1072" fill="#0e5b74"/>
<polygon points="232,1063 242,1063 237,1072" fill="#ffffff" stroke="#999" stroke-width="1"/>
<rect x="80" y="1074" width="158" height="24" fill="url(#pgrad)" stroke="#cccccc" stroke-width="1"/>
<polygon points="84,1110 93,1110 88.5,1101" fill="#e3c46a" stroke="#b89a4a" stroke-width="0.8"/>
<text x="90" y="1125" style="font-size:13px">0.05</text>
<circle cx="390" cy="1029" r="14" fill="#a9b888" stroke="#c9962a" stroke-width="2.5"/>
<text class="lg" x="430" y="1035" textLength="291" lengthAdjust="spacingAndGlyphs">5 significantly downregulated proteins</text>
<circle cx="391" cy="1063" r="7" fill="#b27f5c" stroke="#555" stroke-width="1"/>
<text class="lg" x="430" y="1068" textLength="458" lengthAdjust="spacingAndGlyphs">10 proteins with 0 values either in control or treated samples</text>
<circle cx="391" cy="1093" r="7" fill="#909090" stroke="#555" stroke-width="1"/>
<text class="lg" x="430" y="1099" textLength="283" lengthAdjust="spacingAndGlyphs">28 proteins not detected with MS/MS</text>
</g>
</svg>
